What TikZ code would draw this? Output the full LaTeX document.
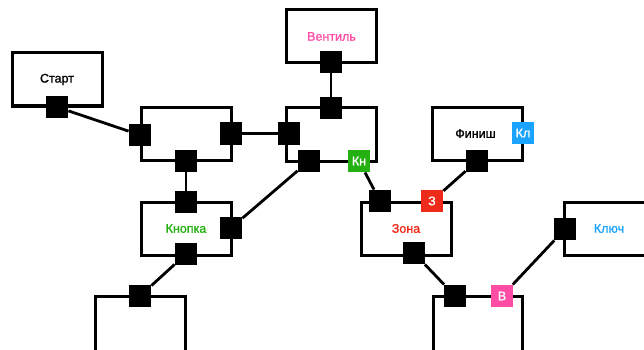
\documentclass[tikz,border=0pt]{standalone}
\usepackage{fontspec}
\setmainfont{Liberation Sans}
\newfontfamily\medf{Liberation Sans}[FakeBold=1.2]
\definecolor{cpink}{HTML}{FF4DA6}
\definecolor{cgreen}{HTML}{25B012}
\definecolor{cred}{HTML}{EE2A1A}
\definecolor{cblue}{HTML}{1AA3FF}
\begin{document}
\begin{tikzpicture}[x=1pt,y=-1pt,
  room/.style={draw=black,line width=3pt,fill=white,minimum width=90pt,minimum height=53pt,inner sep=0pt,font=\medf\fontsize{12.5}{14}\selectfont},
  port/.style={fill=black,minimum size=22.5pt,inner sep=0pt},
  badge/.style={minimum size=22.5pt,inner sep=0pt,text=white,font=\medf\fontsize{12.5}{14}\selectfont},
  link/.style={line width=2.8pt}]
\useasboundingbox (0,0) rectangle (644,350);
% rooms
\node[room] (start) at (57,79.5) {Старт};
\node[room] (b2) at (186.5,133.5) {};
\node[room,text=cpink] (vent) at (331.5,36.5) {Вентиль};
\node[room,minimum height=54pt] (ctr) at (331.5,134) {};
\node[room] (fin) at (477,133.5) {\hspace*{-3pt}Финиш};
\node[room] (key) at (609,228.5) {};
\node[text=cblue,font=\medf\fontsize{12.5}{14}\selectfont] (keyt) at (609,228.5) {Ключ};
\node[room,text=cgreen] (knop) at (186,228.5) {Кнопка};
\node[room,minimum height=64pt] (bl) at (140,328) {};
\node[room,text=cred] (zona) at (406,228.5) {Зона};
\node[room,minimum width=89pt,minimum height=64pt] (br) at (477.5,328) {};
% ports
\node[port] (pstart) at (57,107) {};
\node[port] (pb2l) at (140,135) {};
\node[port] (pb2r) at (231,133.5) {};
\node[port] (pb2b) at (186,161) {};
\node[port] (pvent) at (331,62) {};
\node[port] (pctrt) at (331,108) {};
\node[port] (pctrl) at (289,133.5) {};
\node[port] (pctrb) at (309,161) {};
\node[badge,fill=cgreen] (kn) at (359,161) {Кн};
\node[badge,fill=cblue] (kl) at (523,133) {Кл};
\node[port] (pknt) at (186,202) {};
\node[port] (pknr) at (231,228) {};
\node[port] (pknb) at (186,254) {};
\node[port] (pbl) at (140,296) {};
\node[port] (pzt) at (380,201) {};
\node[badge,fill=cred] (z) at (432,201) {З};
\node[port] (pzb) at (414,253) {};
\node[port] (pbr) at (455,296) {};
\node[badge,fill=cpink] (v) at (502,296) {В};
\node[port] (pkey) at (565,229) {};
\node[port] (pfin) at (477,161) {};
% links
\draw[link] (pstart) -- (pb2l);
\draw[link] (pb2r) -- (pctrl);
\draw[link] (pb2b) -- (pknt);
\draw[link] (pvent) -- (pctrt);
\draw[link] (pctrb) -- (pknr);
\draw[link] (kn) -- (pzt);
\draw[link] (z) -- (pfin);
\draw[link] (pknb) -- (pbl);
\draw[link] (pzb) -- (pbr);
\draw[link] (v) -- (pkey);
\end{tikzpicture}
\end{document}
